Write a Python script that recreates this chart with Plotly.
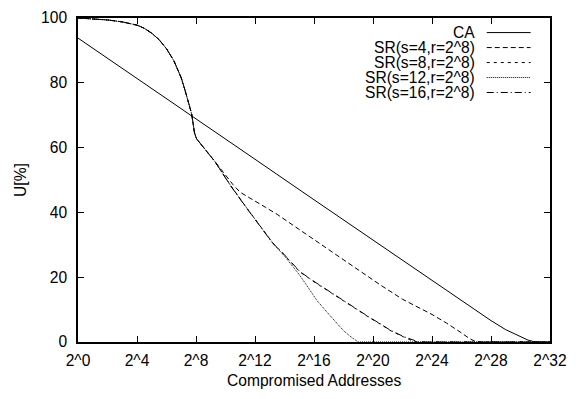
import plotly.graph_objects as go

# ---- data (x = log2 of compromised addresses, y = U[%]) ----
ca_x = [0, 4, 8, 12, 16, 20, 24, 28, 29, 30, 30.5, 31, 32]
ca_y = [93.8, 81.4, 68.9, 56.4, 43.9, 31.4, 18.9, 6.6, 3.8, 1.6, 0.6, 0, 0]

head_x = [0, 1, 2, 3, 4, 4.5, 5, 5.5, 6, 6.5, 7, 7.25, 7.5, 7.7, 7.9, 8.04, 9.3]
head_y = [100, 99.8, 99.4, 98.8, 97.8, 96.8, 95.3, 93.3, 90.5, 86.8, 81.5, 77.8, 74, 70.5, 64.5, 62.7, 55.6]

s4_x = head_x + [10.5, 11, 11.7, 12.7, 13.5, 15, 17, 20.5, 22, 24, 25, 26, 26.5, 27, 32]
s4_y = head_y + [48.6, 46.2, 44.4, 41.6, 39.4, 34.8, 28.5, 17.6, 13.2, 8.5, 5.8, 2.8, 1.2, 0, 0]

s8_x = head_x + [10.3, 11.4, 12.56, 13.2, 14, 15.05, 16, 17, 18, 19, 19.8, 20.5, 21.15, 22.06, 22.5, 23, 32]
s8_y = head_y + [48.6, 41.6, 34.6, 30.6, 26.8, 21.6, 18.6, 15.6, 12.6, 9.7, 7.4, 5.5, 3.6, 1.6, 0.7, 0, 0]

s12_x = head_x + [10.3, 11.4, 12.56, 13.2, 14, 15, 15.5, 16.2, 17, 18, 18.5, 19, 32]
s12_y = head_y + [48.6, 41.6, 34.6, 30.6, 26.5, 20.8, 17.5, 12.8, 8.6, 3.5, 1.6, 0, 0]

s16_x = head_x + [10.3, 11.4, 12.56, 13.2, 14, 15.05, 16, 17, 18, 19, 19.8, 20.5, 21.15, 22.06, 22.6, 23.1, 32]
s16_y = head_y + [48.5, 41.5, 34.5, 30.5, 26.9, 21.7, 18.7, 15.7, 12.7, 9.8, 7.5, 5.6, 3.7, 1.7, 0.7, 0, 0]

names = ["CA", "SR(s=4,r=2^8)", "SR(s=8,r=2^8)", "SR(s=12,r=2^8)", "SR(s=16,r=2^8)"]
xs = [ca_x, s4_x, s8_x, s12_x, s16_x]
ys = [ca_y, s4_y, s8_y, s12_y, s16_y]
dashes = ["solid", "5px,3px", "3px,4px", "1px,1px", "7px,3px,1px,3px"]

x_tickvals = [0, 4, 8, 12, 16, 20, 24, 28, 32]
x_ticktext = ["2^0", "2^4", "2^8", "2^12", "2^16", "2^20", "2^24", "2^28", "2^32"]
y_tickvals = [0, 20, 40, 60, 80, 100]

FONT = "Liberation Sans, Arial, Helvetica, sans-serif"
FS = 15.6

fig = go.Figure()
for n, x, y, d in zip(names, xs, ys, dashes):
    fig.add_trace(go.Scatter(x=x, y=y, mode="lines", name=n,
                             line=dict(color="black", width=1, dash=d),
                             showlegend=False))

# gnuplot-style key: right-aligned text with line sample to its right
row0 = 0.955
step = 15.4 / 333
for i, (n, d) in enumerate(zip(names, dashes)):
    yy = row0 - i * step
    fig.add_annotation(x=0.8447, y=yy, xref="paper", yref="paper", text=n,
                       showarrow=False, xanchor="right", yanchor="middle",
                       font=dict(family=FONT, size=FS, color="black"))
    fig.add_shape(type="line", xref="paper", yref="paper",
                  x0=0.866, x1=0.959, y0=yy, y1=yy,
                  line=dict(color="black", width=1, dash=d))

fig.add_annotation(x=0.5, y=-0.12, xref="paper", yref="paper",
                   text="Compromised Addresses", showarrow=False,
                   xanchor="center", yanchor="middle",
                   font=dict(family=FONT, size=FS, color="black"))
fig.add_annotation(x=-0.123, y=0.5, xref="paper", yref="paper",
                   text="U[%]", showarrow=False, textangle=-90,
                   xanchor="center", yanchor="middle",
                   font=dict(family=FONT, size=FS, color="black"))

axis_common = dict(showgrid=False, zeroline=False, showline=True,
                   linecolor="black", linewidth=1.5, mirror="ticks",
                   ticks="inside", ticklen=6, tickwidth=1, tickcolor="black",
                   tickfont=dict(family=FONT, size=FS, color="black"))

fig.update_xaxes(range=[0, 32], tickvals=x_tickvals, ticktext=x_ticktext,
                 ticklabelstandoff=4, **axis_common)
fig.update_yaxes(range=[0, 100], tickvals=y_tickvals,
                 ticklabelstandoff=6, **axis_common)

fig.update_layout(width=582, height=399,
                  margin=dict(l=78, r=32, t=9, b=57),
                  paper_bgcolor="white", plot_bgcolor="white",
                  font=dict(family=FONT, size=FS, color="black"))

fig.write_html("out.html")
